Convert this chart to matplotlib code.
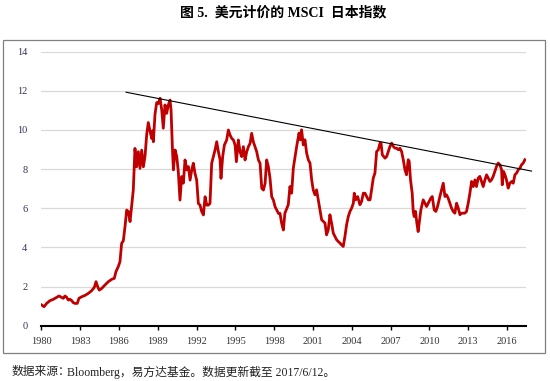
import matplotlib
matplotlib.use("Agg")
import matplotlib.pyplot as plt
from matplotlib.patches import Rectangle

# MSCI Japan index priced in USD
years = [
    1980.03, 1980.21, 1980.41, 1980.67, 1980.93, 1981.19, 1981.37, 1981.57, 1981.70, 1981.83,
    1981.96, 1982.09, 1982.22, 1982.35, 1982.47, 1982.60, 1982.78, 1982.91, 1983.12, 1983.38,
    1983.63, 1983.89, 1984.10, 1984.23, 1984.36, 1984.48, 1984.66, 1984.92, 1985.18, 1985.44,
    1985.64, 1985.77, 1985.95, 1986.08, 1986.21, 1986.34, 1986.47, 1986.60, 1986.73, 1986.86,
    1986.98, 1987.11, 1987.24, 1987.37, 1987.50, 1987.63, 1987.76, 1987.89, 1988.02, 1988.15,
    1988.27, 1988.40, 1988.53, 1988.61, 1988.66, 1988.79, 1988.92, 1989.05, 1989.18, 1989.31,
    1989.43, 1989.56, 1989.69, 1989.82, 1989.95, 1990.03, 1990.13, 1990.21, 1990.34, 1990.47,
    1990.59, 1990.72, 1990.85, 1990.98, 1991.11, 1991.24, 1991.37, 1991.50, 1991.63, 1991.75,
    1991.88, 1992.01, 1992.14, 1992.27, 1992.40, 1992.53, 1992.66, 1992.79, 1992.91, 1993.04,
    1993.17, 1993.30, 1993.43, 1993.56, 1993.69, 1993.82, 1993.89, 1994.02, 1994.15, 1994.33,
    1994.46, 1994.59, 1994.72, 1994.85, 1994.98, 1995.08, 1995.23, 1995.36, 1995.49, 1995.62,
    1995.75, 1995.88, 1996.01, 1996.14, 1996.26, 1996.39, 1996.52, 1996.65, 1996.78, 1996.91,
    1997.04, 1997.17, 1997.30, 1997.42, 1997.55, 1997.68, 1997.81, 1997.94, 1998.07, 1998.20,
    1998.33, 1998.45, 1998.58, 1998.71, 1998.83, 1999.09, 1999.22, 1999.35, 1999.48, 1999.74,
    1999.92, 2000.02, 2000.12, 2000.25, 2000.38, 2000.51, 2000.64, 2000.77, 2000.90, 2001.02,
    2001.15, 2001.28, 2001.41, 2001.54, 2001.67, 2001.80, 2001.93, 2002.05, 2002.18, 2002.31,
    2002.44, 2002.57, 2002.70, 2002.83, 2002.96, 2003.09, 2003.21, 2003.34, 2003.47, 2003.60,
    2003.73, 2003.86, 2003.99, 2004.12, 2004.19, 2004.30, 2004.45, 2004.63, 2004.76, 2004.89,
    2005.02, 2005.15, 2005.28, 2005.41, 2005.53, 2005.66, 2005.79, 2005.92, 2006.05, 2006.18,
    2006.26, 2006.36, 2006.57, 2006.70, 2006.82, 2006.95, 2007.08, 2007.21, 2007.34, 2007.47,
    2007.60, 2007.72, 2007.85, 2007.98, 2008.11, 2008.23, 2008.36, 2008.44, 2008.54, 2008.67,
    2008.75, 2008.82, 2008.93, 2009.03, 2009.13, 2009.24, 2009.34, 2009.52, 2009.65, 2009.78,
    2009.91, 2010.11, 2010.22, 2010.37, 2010.50, 2010.63, 2010.81, 2010.94, 2011.07, 2011.20,
    2011.32, 2011.45, 2011.58, 2011.71, 2011.84, 2011.97, 2012.10, 2012.23, 2012.36, 2012.48,
    2012.61, 2012.74, 2012.87, 2013.00, 2013.13, 2013.26, 2013.39, 2013.52, 2013.64, 2013.77,
    2013.90, 2014.03, 2014.16, 2014.29, 2014.42, 2014.55, 2014.68, 2014.80, 2014.93, 2015.06,
    2015.19, 2015.32, 2015.45, 2015.58, 2015.63, 2015.73, 2015.84, 2015.96, 2016.09, 2016.22,
    2016.35, 2016.48, 2016.61, 2016.74, 2016.87, 2017.00, 2017.12, 2017.25, 2017.38,
]
msci_japan = [
    1.06, 0.97, 1.14, 1.28, 1.35, 1.45, 1.52, 1.45, 1.40, 1.52,
    1.45, 1.31, 1.35, 1.28, 1.18, 1.14, 1.14, 1.40, 1.48, 1.55,
    1.65, 1.79, 1.96, 2.25, 1.99, 1.82, 1.90, 2.08, 2.25, 2.37,
    2.42, 2.76, 3.02, 3.27, 4.21, 4.34, 5.06, 5.91, 5.83, 5.32,
    6.08, 6.93, 9.06, 8.12, 8.89, 8.04, 8.97, 8.12, 8.68, 9.79,
    10.38, 9.96, 9.57, 9.96, 9.40, 10.81, 11.40, 11.35, 11.62, 11.02,
    10.09, 11.28, 10.85, 11.28, 11.53, 11.02, 9.15, 7.96, 8.98, 8.64,
    7.87, 6.42, 7.62, 7.28, 8.47, 7.96, 8.13, 7.44, 7.96, 8.30,
    7.79, 7.44, 6.25, 6.16, 5.83, 5.66, 6.59, 6.16, 6.16, 6.25,
    8.30, 8.64, 8.98, 9.40, 8.89, 8.47, 7.53, 8.64, 9.23, 9.49,
    10.00, 9.74, 9.57, 9.49, 9.23, 8.38, 9.49, 8.89, 8.64, 9.15,
    8.47, 8.89, 9.15, 9.32, 9.83, 9.40, 9.15, 8.89, 8.47, 8.30,
    7.02, 6.93, 7.28, 8.47, 8.13, 7.53, 6.59, 6.42, 6.08, 5.91,
    5.74, 5.74, 5.23, 4.89, 5.75, 6.18, 7.11, 6.77, 8.05, 9.16,
    9.84, 9.50, 10.01, 9.24, 9.50, 8.82, 8.48, 8.31, 7.45, 6.94,
    6.69, 6.94, 6.43, 5.92, 5.41, 5.33, 5.24, 4.64, 4.90, 5.67,
    5.24, 4.73, 4.56, 4.39, 4.30, 4.22, 4.13, 4.05, 4.56, 5.16,
    5.58, 5.84, 6.01, 6.26, 6.77, 6.43, 6.60, 6.18, 6.35, 6.77,
    6.77, 6.60, 6.43, 6.43, 6.94, 7.54, 7.80, 8.90, 8.99, 9.33,
    9.33, 8.73, 8.56, 8.65, 8.90, 9.16, 9.33, 9.16, 9.07, 9.07,
    8.99, 9.07, 8.90, 8.48, 7.97, 7.71, 8.48, 8.40, 7.45, 6.77,
    5.84, 5.58, 5.84, 5.24, 4.81, 5.41, 5.92, 6.43, 6.26, 6.09,
    6.26, 6.52, 6.60, 5.92, 5.84, 6.09, 6.60, 6.94, 7.28, 6.60,
    6.69, 6.52, 6.26, 6.01, 5.84, 5.75, 6.26, 6.01, 5.67, 5.75,
    5.75, 5.75, 5.84, 6.26, 6.77, 7.37, 7.11, 7.45, 7.11, 7.54,
    7.63, 7.37, 7.11, 7.45, 7.71, 7.54, 7.37, 7.45, 7.63, 7.88,
    8.14, 8.31, 8.22, 7.97, 7.20, 7.88, 7.71, 7.45, 7.03, 7.28,
    7.37, 7.28, 7.71, 7.80, 7.97, 8.05, 8.22, 8.31, 8.48,
]

# hand drawn resistance line
trend_years = [1986.55, 2017.9]
trend_values = [11.93, 7.9]

xtick_years = list(range(1980, 2017, 3))
ytick_values = list(range(0, 15, 2))

title = "图 5.  美元计价的 MSCI  日本指数"
source_label = "数据来源："
source_body = "Bloomberg，易方达基金。数据更新截至 2017/6/12。"

serif_cjk = ["Liberation Serif", "Noto Sans CJK SC"]

fig = plt.figure(figsize=(5.5, 3.81), dpi=100)
ax = fig.add_axes([0.0751, 0.1451, 0.8811, 0.7192])

# grey frame around the plot area
fig.patches.append(
    Rectangle((3 / 550, 1 - 353 / 381), 542 / 550, 313 / 381,
              transform=fig.transFigure, fill=False,
              edgecolor="#808080", linewidth=0.9)
)

ax.plot(years, msci_japan, color="#C00000", linewidth=2.0, zorder=3)
ax.plot(trend_years, trend_values, color="black", linewidth=0.8,
        zorder=4, clip_on=False)

ax.set_xlim(1980, 2017.46)
ax.set_ylim(0, 14)
ax.set_xticks(xtick_years)
ax.set_xticklabels([str(y) for y in xtick_years])
ax.set_yticks(ytick_values)
ax.grid(axis="y", color="#d9d9d9", linewidth=0.9)
ax.set_axisbelow(True)

for side in ["left", "right", "top"]:
    ax.spines[side].set_visible(False)
ax.spines["bottom"].set_linewidth(1.5)
ax.spines["bottom"].set_color("black")

ax.tick_params(axis="x", direction="out", length=3, width=1, pad=5,
               labelsize=7.5, labelcolor="#333333")
ax.tick_params(axis="y", length=0, pad=10, labelsize=7.5, labelcolor="#33335a")
for lab in ax.get_xticklabels() + ax.get_yticklabels():
    lab.set_family("Liberation Serif")

fig.text(283.5 / 550, 1 - 13 / 381, title, ha="center", va="center",
         fontsize=10, fontweight="bold", family=serif_cjk)
fig.text(12 / 550, 1 - 372 / 381, source_label, ha="left", va="center",
         fontsize=8.5, family=serif_cjk, color="#222222")
fig.text(67 / 550, 1 - 372 / 381, source_body, ha="left", va="center",
         fontsize=8.5, family=serif_cjk, color="#222222")

fig.savefig("out.png", dpi=100)
